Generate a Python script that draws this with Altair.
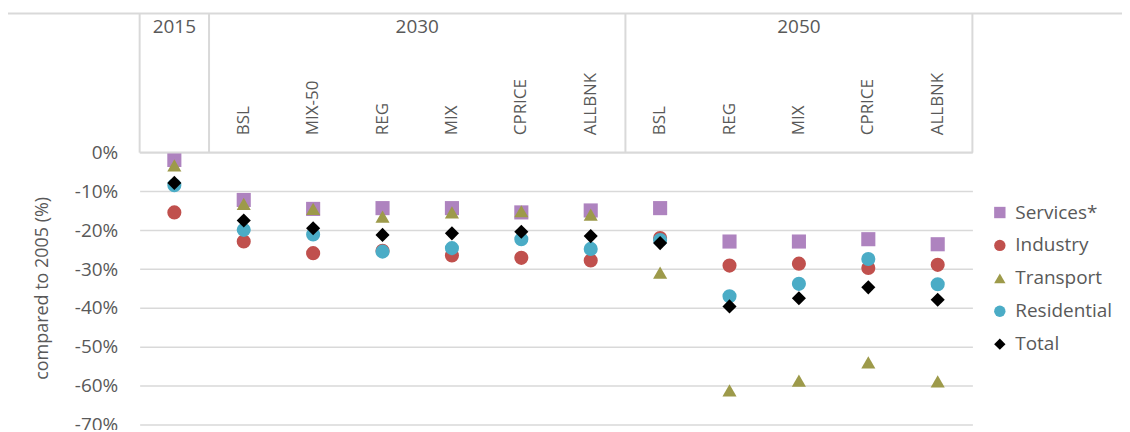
import altair as alt
import pandas as pd

# ---- data ----
years = ["2015", "2030", "2030", "2030", "2030", "2030", "2030",
         "2050", "2050", "2050", "2050", "2050"]
scenarios = ["", "BSL", "MIX-50", "REG", "MIX", "CPRICE", "ALLBNK",
             "BSL", "REG", "MIX", "CPRICE", "ALLBNK"]
series_names = ["Services*", "Industry", "Transport", "Residential", "Total"]
services = [-1.9, -12.2, -14.5, -14.3, -14.3, -15.4, -14.9, -14.3, -22.9, -22.9, -22.3, -23.6]
industry = [-15.4, -22.9, -25.9, -25.3, -26.5, -27.1, -27.8, -22.0, -29.1, -28.6, -29.7, -28.9]
transport = [-3.3, -13.2, -14.5, -16.5, -15.4, -15.1, -16.0, -30.9, -61.2, -58.7, -54.0, -58.9]
residential = [-8.4, -19.9, -21.1, -25.5, -24.6, -22.3, -24.8, -22.5, -37.0, -33.8, -27.4, -33.9]
total = [-7.8, -17.5, -19.5, -21.2, -20.8, -20.4, -21.5, -23.3, -39.6, -37.5, -34.7, -37.9]
y_ticks = [0, -10, -20, -30, -40, -50, -60, -70]

colors = ["#AE83BF", "#C0504D", "#9D9A4A", "#4BACC6", "#000000"]
shapes = ["square", "circle", "triangle-up", "circle", "diamond"]

FONT = "Open Sans"
GREY = "#595959"
LINE = "#D9D9D9"
Y_TOP = 35.8  # header band above 0%

# ---- tables ----
values = [services, industry, transport, residential, total]
rows = []
for si, (name, vals) in enumerate(zip(series_names, values)):
    for i, v in enumerate(vals):
        rows.append({"pos": i + 0.5, "value": v, "series": name, "ord": si})
points_df = pd.DataFrame(rows)

cat_df = pd.DataFrame({"pos": [i + 0.5 for i in range(len(scenarios))],
                       "scenario": scenarios})

bounds = [0]
groups = []
start = 0
for i in range(1, len(years) + 1):
    if i == len(years) or years[i] != years[i - 1]:
        groups.append({"year": years[start], "pos": (start + i) / 2})
        bounds.append(i)
        start = i
bounds_df = pd.DataFrame({"pos": bounds, "y0": [0] * len(bounds), "y1": [Y_TOP] * len(bounds)})
groups_df = pd.DataFrame(groups)
base_df = pd.DataFrame({"x0": [0], "x1": [len(years)], "y": [0], "ytop": [Y_TOP]})

xscale = alt.Scale(domain=[0, len(years)], nice=False, zero=False)
yscale = alt.Scale(domain=[-70, Y_TOP], nice=False, zero=False)

# one identical y axis definition for every layer with a y field (so they merge cleanly)
yaxis = alt.Axis(values=y_ticks, labelExpr="datum.value + '%'",
                 title="compared to 2005 (%)", grid=True,
                 gridColor=LINE, gridWidth=1.5, domain=False, ticks=False,
                 labelFont=FONT, labelFontSize=19, labelColor=GREY,
                 labelPadding=22,
                 titleFont=FONT, titleFontSize=18, titleColor=GREY,
                 titleFontWeight="normal", titleAngle=270,
                 titleX=-97, titleY=275, titleAlign="center",
                 titleBaseline="middle")

points = alt.Chart(points_df).mark_point(filled=True, opacity=1, size=200).encode(
    x=alt.X("pos:Q", scale=xscale, axis=None),
    y=alt.Y("value:Q", scale=yscale, axis=yaxis),
    color=alt.Color("series:N", scale=alt.Scale(domain=series_names, range=colors),
                    legend=alt.Legend(title=None, orient="none", legendX=853, legendY=190,
                                      labelFont=FONT, labelFontSize=19, labelColor=GREY,
                                      symbolSize=130, rowPadding=13, labelOffset=6)),
    shape=alt.Shape("series:N", scale=alt.Scale(domain=series_names, range=shapes)),
)

vlines = alt.Chart(bounds_df).mark_rule(color=LINE, strokeWidth=2).encode(
    x=alt.X("pos:Q", scale=xscale, axis=None),
    y=alt.Y("y0:Q", scale=yscale, axis=yaxis),
    y2="y1:Q",
)

base_line = alt.Chart(base_df).mark_rule(color=LINE, strokeWidth=2).encode(
    x=alt.X("x0:Q", scale=xscale, axis=None),
    x2="x1:Q",
    y=alt.Y("y:Q", scale=yscale, axis=yaxis),
)

top_line = alt.Chart(base_df).mark_rule(color=LINE, strokeWidth=2).encode(
    x=alt.value(-135), x2=alt.value(988),
    y=alt.Y("ytop:Q", scale=yscale, axis=yaxis),
)

year_text = alt.Chart(groups_df).mark_text(font=FONT, fontSize=19, color=GREY,
                                           baseline="middle", align="center").encode(
    x=alt.X("pos:Q", scale=xscale, axis=None),
    y=alt.value(14),
    text="year:N",
)

scen_text = alt.Chart(cat_df).mark_text(font=FONT, fontSize=17, color=GREY, angle=270,
                                        align="left", baseline="middle").encode(
    x=alt.X("pos:Q", scale=xscale, axis=None),
    y=alt.value(122),
    text="scenario:N",
)

chart = alt.layer(points, base_line, vlines, top_line, year_text, scen_text).properties(
    width=835, height=412,
    autosize=alt.AutoSizeParams(type="none"),
    padding={"left": 132, "top": 5, "right": 150, "bottom": 5},
).configure_view(stroke=None)

chart.save("out.html", embed_options={"renderer": "svg", "actions": False})
